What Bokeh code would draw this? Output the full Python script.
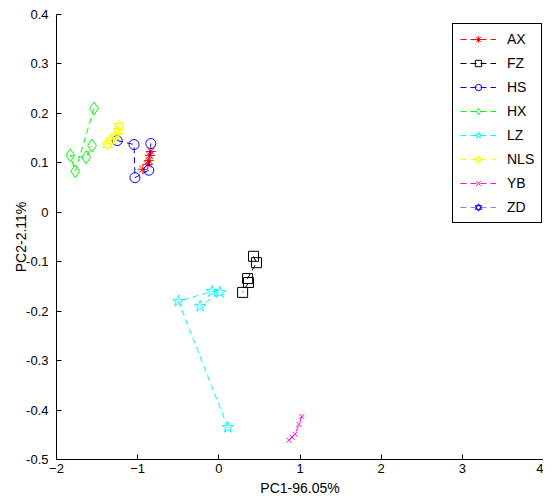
from bokeh.plotting import figure
from bokeh.models import Range1d, FixedTicker, Legend, LegendItem
from bokeh.embed import file_html
from bokeh.resources import INLINE

# ---- data ----
AX_x = [-0.838, -0.850, -0.863, -0.875, -0.936]
AX_y = [0.123, 0.115, 0.105, 0.097, 0.087]
FZ_x = [0.427, 0.464, 0.354, 0.366, 0.293]
FZ_y = [-0.089, -0.102, -0.134, -0.142, -0.162]
HS_x = [-1.252, -1.045, -1.033, -0.863, -0.838]
HS_y = [0.145, 0.137, 0.070, 0.085, 0.139]
HX_x = [-1.538, -1.769, -1.830, -1.635, -1.562]
HX_y = [0.210, 0.083, 0.115, 0.111, 0.135]
LZ_x = [0.110, -0.498, -0.084, 0.013, -0.230]
LZ_y = [-0.435, -0.180, -0.160, -0.162, -0.190]
NLS_x = [-1.227, -1.240, -1.276, -1.325, -1.373]
NLS_y = [0.174, 0.163, 0.153, 0.145, 0.137]
YB_x = [1.023, 0.987, 0.938, 0.901, 0.865]
YB_y = [-0.413, -0.429, -0.449, -0.455, -0.461]
# ZD appears only in the legend; no visible points in the chart
ZD_x = [float("nan")]
ZD_y = [float("nan")]

x_ticks = [-2, -1, 0, 1, 2, 3, 4]
y_ticks = [-0.5, -0.4, -0.3, -0.2, -0.1, 0, 0.1, 0.2, 0.3, 0.4]
y_tick_labels = ["-0.5", "-0.4", "-0.3", "-0.2", "-0.1", "0", "0.1", "0.2", "0.3", "0.4"]
x_label = "PC1-96.05%"
y_label = "PC2-2.11%"

FONT = "Liberation Sans"

p = figure(width=543, height=498, output_backend="svg", toolbar_location=None,
           x_range=Range1d(-2, 4), y_range=Range1d(-0.5, 0.4),
           min_border_left=56, min_border_right=0, min_border_top=14, min_border_bottom=20)
p.outline_line_color = None
p.xgrid.visible = False
p.ygrid.visible = False
p.background_fill_color = "white"
p.border_fill_color = "white"

for ax in (p.xaxis[0], p.yaxis[0]):
    ax.axis_line_color = "black"
    ax.axis_line_width = 1
    ax.major_tick_in = 5
    ax.major_tick_out = 0
    ax.minor_tick_in = 0
    ax.minor_tick_out = 0
    ax.major_tick_line_color = "black"
    ax.major_label_text_font = FONT
    ax.major_label_text_font_size = "13px"
    ax.major_label_text_color = "black"
    ax.axis_label_text_font = FONT
    ax.axis_label_text_font_size = "14px"
    ax.axis_label_text_font_style = "normal"
    ax.axis_label_text_color = "black"

p.xaxis.ticker = FixedTicker(ticks=x_ticks)
p.yaxis.ticker = FixedTicker(ticks=y_ticks)
p.yaxis.major_label_overrides = {t: l for t, l in zip(y_ticks, y_tick_labels)}
p.xaxis.axis_label = x_label
p.yaxis.axis_label = y_label
p.xaxis.major_label_standoff = 4
p.xaxis.axis_label_standoff = 4
p.yaxis.major_label_standoff = 8
p.yaxis.axis_label_standoff = -6

DASH = "6 4"
items = []

def series(label, xs, ys, line_color, markers, marker_color, size):
    rs = []
    rs.append(p.line(xs, ys, line_color=line_color, line_width=1, line_dash=DASH))
    for m in markers:
        rs.append(p.scatter(xs, ys, marker=m, size=size, fill_color=None,
                            line_color=marker_color, line_width=1))
    items.append(LegendItem(label=label, renderers=rs))

series("AX", AX_x, AX_y, "#ff0000", ["asterisk"], "#ff0000", 10)
series("FZ", FZ_x, FZ_y, "#000000", ["square"], "#000000", 10)
series("HS", HS_x, HS_y, "#0000ff", ["circle"], "#0000ff", 10)
series("HX", HX_x, HX_y, "#00ff00", ["diamond"], "#00ff00", 13)
series("LZ", LZ_x, LZ_y, "#00ffff", ["star"], "#00ffff", 12)
series("NLS", NLS_x, NLS_y, "#ffff00", ["triangle", "inverted_triangle"], "#ffff00", 10)
series("YB", YB_x, YB_y, "#ff00ff", ["x"], "#ff00ff", 7)
series("ZD", ZD_x, ZD_y, "#8080ff", ["triangle", "inverted_triangle"], "#0000ff", 9)

legend = Legend(items=items, location=(396, 236),
                label_text_font=FONT, label_text_font_size="14px", label_text_color="black",
                border_line_color="black", border_line_width=1, border_line_alpha=1,
                background_fill_color="white", background_fill_alpha=1,
                padding=7, spacing=8, glyph_width=36, glyph_height=16,
                label_height=16, label_standoff=11, margin=0)
p.add_layout(legend)

open("out.html", "w").write(file_html(p, INLINE))
